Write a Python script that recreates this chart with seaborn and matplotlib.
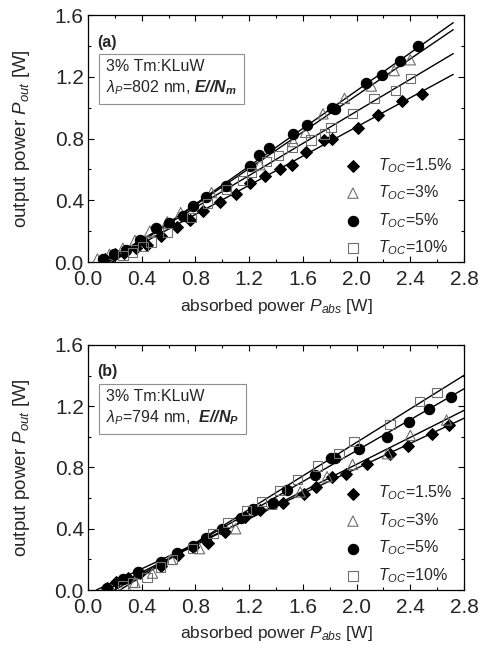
import numpy as np
import pandas as pd
import matplotlib
matplotlib.use("Agg")
import matplotlib.pyplot as plt
import seaborn as sns

# ---------------- data ----------------
labels = ["1.5%", "3%", "5%", "10%"]

# panel (a): lambda_P = 802 nm
a_x_15 = [0.13, 0.20, 0.27, 0.36, 0.44, 0.54, 0.66, 0.76, 0.86, 0.98, 1.10, 1.21, 1.32, 1.43, 1.52, 1.62, 1.76, 1.82, 2.01, 2.16, 2.34, 2.49]
a_y_15 = [0.02, 0.05, 0.06, 0.09, 0.11, 0.17, 0.23, 0.27, 0.33, 0.39, 0.44, 0.51, 0.56, 0.60, 0.63, 0.71, 0.79, 0.80, 0.87, 0.95, 1.04, 1.09]
a_x_3 = [0.07, 0.16, 0.26, 0.35, 0.46, 0.59, 0.69, 0.92, 1.03, 1.28, 1.53, 1.62, 1.75, 1.91, 2.11, 2.28, 2.40]
a_y_3 = [0.02, 0.05, 0.09, 0.14, 0.20, 0.26, 0.32, 0.45, 0.49, 0.63, 0.78, 0.84, 0.96, 1.06, 1.14, 1.24, 1.31]
a_x_5 = [0.11, 0.19, 0.28, 0.39, 0.51, 0.60, 0.71, 0.78, 0.88, 1.03, 1.21, 1.27, 1.35, 1.53, 1.63, 1.82, 1.84, 2.07, 2.19, 2.32, 2.46]
a_y_5 = [0.02, 0.05, 0.08, 0.14, 0.22, 0.25, 0.30, 0.36, 0.42, 0.49, 0.62, 0.69, 0.74, 0.83, 0.89, 1.00, 0.99, 1.16, 1.21, 1.30, 1.40]
a_x_10 = [0.26, 0.33, 0.41, 0.47, 0.59, 0.77, 0.89, 1.03, 1.15, 1.22, 1.33, 1.42, 1.52, 1.66, 1.76, 1.81, 1.97, 2.13, 2.29, 2.40]
a_y_10 = [0.04, 0.06, 0.10, 0.13, 0.19, 0.29, 0.38, 0.47, 0.53, 0.58, 0.65, 0.69, 0.74, 0.79, 0.83, 0.87, 0.96, 1.06, 1.11, 1.19]

# panel (b): lambda_P = 794 nm
b_x_15 = [0.14, 0.21, 0.30, 0.39, 0.54, 0.67, 0.78, 0.89, 1.02, 1.17, 1.28, 1.45, 1.61, 1.70, 1.82, 1.92, 2.08, 2.25, 2.38, 2.56, 2.69]
b_y_15 = [0.01, 0.05, 0.08, 0.11, 0.16, 0.23, 0.28, 0.31, 0.38, 0.48, 0.52, 0.57, 0.63, 0.67, 0.74, 0.76, 0.82, 0.89, 0.94, 1.02, 1.08]
b_x_3 = [0.28, 0.35, 0.48, 0.62, 0.83, 1.10, 1.37, 1.58, 1.78, 1.97, 2.23, 2.40, 2.67]
b_y_3 = [0.03, 0.05, 0.11, 0.20, 0.27, 0.40, 0.56, 0.64, 0.74, 0.82, 0.89, 1.01, 1.11]
b_x_5 = [0.14, 0.26, 0.37, 0.54, 0.66, 0.78, 0.88, 1.00, 1.14, 1.23, 1.38, 1.48, 1.69, 1.81, 1.84, 2.02, 2.23, 2.39, 2.54, 2.70]
b_y_5 = [0.01, 0.07, 0.12, 0.18, 0.24, 0.29, 0.34, 0.40, 0.47, 0.53, 0.57, 0.65, 0.75, 0.86, 0.86, 0.92, 1.00, 1.10, 1.18, 1.26]
b_x_10 = [0.26, 0.33, 0.44, 0.54, 0.63, 0.78, 0.93, 1.04, 1.18, 1.29, 1.43, 1.56, 1.71, 1.87, 1.98, 2.25, 2.47, 2.60]
b_y_10 = [0.03, 0.05, 0.08, 0.15, 0.20, 0.27, 0.37, 0.44, 0.52, 0.58, 0.65, 0.72, 0.81, 0.89, 0.97, 1.08, 1.23, 1.29]

x_ticks = [0.0, 0.4, 0.8, 1.2, 1.6, 2.0, 2.4, 2.8]
y_ticks = [0.0, 0.4, 0.8, 1.2, 1.6]

panels = [
    dict(tag="(a)", lam="802", pol="m", sep=" ",
         xs=[a_x_15, a_x_3, a_x_5, a_x_10], ys=[a_y_15, a_y_3, a_y_5, a_y_10], xend=2.72),
    dict(tag="(b)", lam="794", pol="P", sep="  ",
         xs=[b_x_15, b_x_3, b_x_5, b_x_10], ys=[b_y_15, b_y_3, b_y_5, b_y_10], xend=2.8),
]

# ---------------- style ----------------
sns.set_theme(style="ticks")
plt.rcParams["font.family"] = ["Liberation Sans", "DejaVu Sans"]
plt.rcParams["mathtext.fontset"] = "custom"
plt.rcParams["mathtext.rm"] = "Liberation Sans"
plt.rcParams["mathtext.it"] = "Liberation Sans:italic"
plt.rcParams["mathtext.bf"] = "Liberation Sans:bold"
try:
    plt.rcParams["mathtext.bfit"] = "Liberation Sans:bold:italic"
except KeyError:
    pass

styles = [
    dict(marker="D", facecolor="black", edgecolor="black", s=36),
    dict(marker="^", facecolor="none", edgecolor="#707070", s=55),
    dict(marker="o", facecolor="black", edgecolor="black", s=55),
    dict(marker="s", facecolor="none", edgecolor="#707070", s=45),
]

fig = plt.figure(figsize=(4.79, 6.56), dpi=100)
axes_rects = [[0.1837, 0.6006, 0.785, 0.3765], [0.1837, 0.1006, 0.785, 0.3735]]

for rect, p in zip(axes_rects, panels):
    ax = fig.add_axes(rect)
    handles = []
    for i, (xv, yv) in enumerate(zip(p["xs"], p["ys"])):
        st = styles[i]
        df = pd.DataFrame({"x": xv, "y": yv})
        # linear fit line
        sel = df[df["y"] > 0.3]
        k, b = np.polyfit(sel["x"], sel["y"], 1)
        x0 = -b / k
        xl = np.array([x0, p["xend"]])
        ldf = pd.DataFrame({"x": xl, "y": k * xl + b})
        sns.lineplot(data=ldf, x="x", y="y", ax=ax, color="black", lw=1.0, zorder=2)
        sns.scatterplot(data=df, x="x", y="y", ax=ax, marker=st["marker"], s=st["s"],
                        facecolor=st["facecolor"], edgecolor=st["edgecolor"],
                        linewidth=0.8, zorder=3)
        h = ax.scatter([], [], marker=st["marker"], s=st["s"], facecolor=st["facecolor"],
                       edgecolor=st["edgecolor"], linewidth=0.8)
        handles.append(h)

    ax.set_xlim(0, 2.8)
    ax.set_ylim(0, 1.6)
    ax.set_xticks(x_ticks)
    ax.set_yticks(y_ticks)
    ax.set_xticklabels([f"{v:.1f}" for v in x_ticks])
    ax.set_yticklabels([f"{v:.1f}" for v in y_ticks])
    ax.set_xticks(np.arange(0.2, 2.8, 0.4), minor=True)
    ax.set_yticks(np.arange(0.2, 1.6, 0.4), minor=True)
    ax.tick_params(which="both", direction="in", top=True, right=True, color="black")
    ax.tick_params(which="major", length=4, width=0.8, labelsize=15)
    ax.tick_params(axis="x", which="major", pad=5.5)
    ax.tick_params(axis="y", which="major", pad=3)
    ax.tick_params(which="minor", length=2.5, width=0.8)
    for sp in ax.spines.values():
        sp.set_color("black")
        sp.set_linewidth(0.9)

    ax.set_xlabel(r"absorbed power $P_{abs}$ [W]", fontsize=12.5)
    ax.set_ylabel(r"output power $P_{out}$ [W]", fontsize=13.5)
    ax.xaxis.set_label_coords(0.5, -0.14)
    ax.yaxis.set_label_coords(-0.15, 0.5)

    ax.text(0.025, 0.89, p["tag"], transform=ax.transAxes, fontsize=11.5,
            fontweight="bold", va="center", ha="left")
    box_txt = ("3% Tm:KLuW\n" + r"$\mathit{\lambda_P}$=" + p["lam"] + " nm," + p["sep"]
               + r"$\mathbfit{E//N_" + p["pol"] + "}$")
    ax.text(0.048, 0.82, box_txt, transform=ax.transAxes, fontsize=11.5,
            va="top", ha="left", linespacing=1.3,
            bbox=dict(boxstyle="square,pad=0.42", facecolor="white", edgecolor="#909090", lw=0.8))

    leg = ax.legend(handles, [r"$T_{OC}$=" + l for l in labels], loc="lower right",
                    bbox_to_anchor=(1.0, -0.025), frameon=False, fontsize=11.5,
                    handletextpad=0.6, labelspacing=0.55, borderaxespad=0.3)

fig.savefig("out.png", dpi=100)
